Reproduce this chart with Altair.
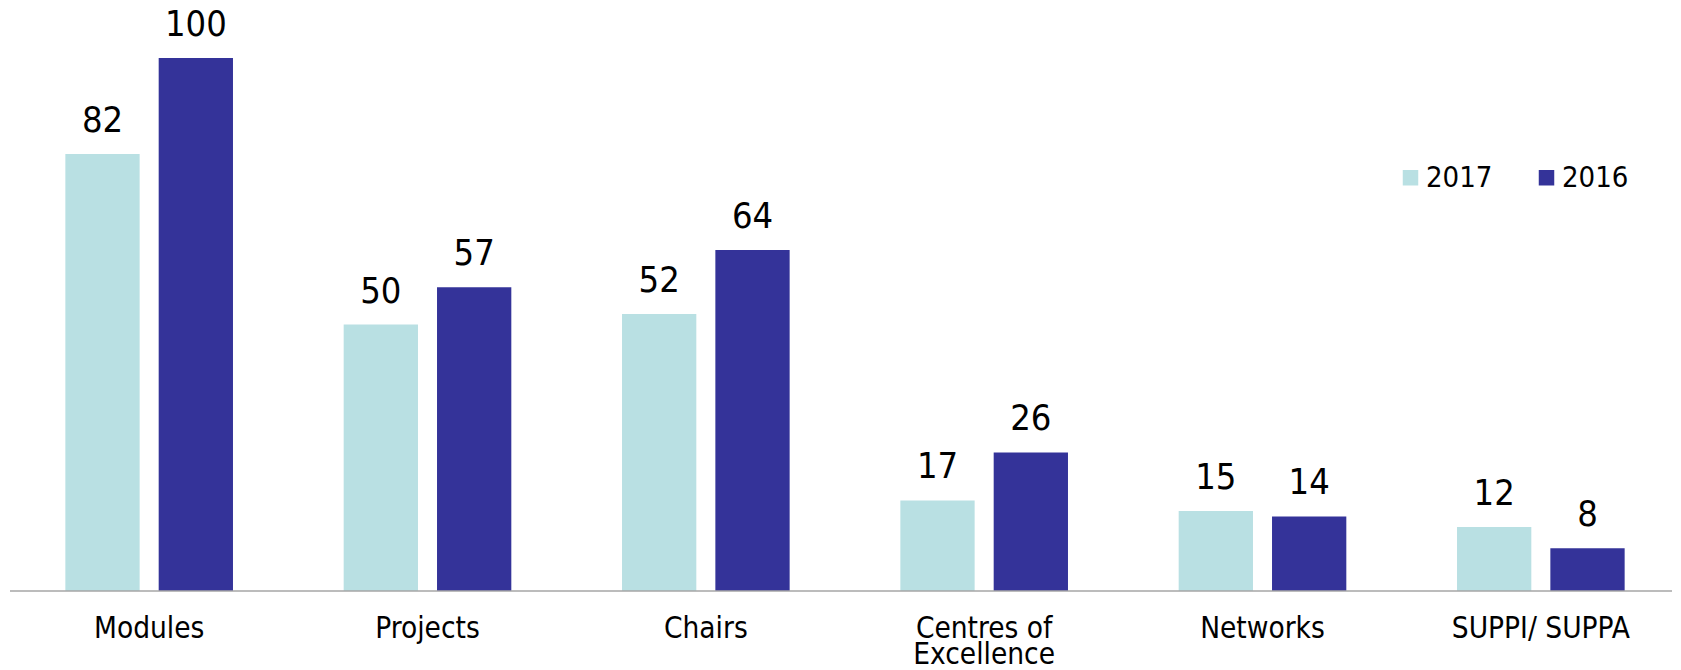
import altair as alt
import pandas as pd

categories = ["Modules", "Projects", "Chairs", "Centres of|Excellence", "Networks", "SUPPI/ SUPPA"]
years = ["2017", "2016"]
values_2017 = [82, 50, 52, 17, 15, 12]
values_2016 = [100, 57, 64, 26, 14, 8]
colors = ["#B9E0E3", "#343399"]

rows = []
for c, a, b in zip(categories, values_2017, values_2016):
    rows.append({"cat": c, "year": "2017", "value": a})
    rows.append({"cat": c, "year": "2016", "value": b})
df = pd.DataFrame(rows)

FONT = "DejaVu Sans Condensed, DejaVu Sans"

x = alt.X("cat:N", sort=categories,
          scale=alt.Scale(paddingInner=0, paddingOuter=0),
          axis=alt.Axis(title=None, labelAngle=0, ticks=False, domain=False,
                        labelFont=FONT, labelFontSize=29.5, labelColor="#000000",
                        labelPadding=23, labelLineHeight=26,
                        labelExpr="split(datum.label, '|')"))
xo = alt.XOffset("year:N", sort=years,
                 scale=alt.Scale(paddingInner=0.204, paddingOuter=0.593))
y = alt.Y("value:Q", scale=alt.Scale(domain=[0, 109.4], nice=False), axis=None)

bars = alt.Chart(df).mark_bar().encode(
    x=x, xOffset=xo, y=y,
    color=alt.Color("year:N", sort=years,
                    scale=alt.Scale(domain=years, range=colors),
                    legend=alt.Legend(title=None, orient="none", direction="horizontal",
                                      legendX=1386, legendY=155, padding=0,
                                      symbolType="square", symbolSize=240,
                                      symbolStrokeWidth=0, symbolOpacity=1,
                                      labelFont=FONT, labelFontSize=29,
                                      labelColor="#000000", columnPadding=39,
                                      labelOffset=1))
)

text = alt.Chart(df).mark_text(font=FONT, fontSize=36, color="#000000",
                               baseline="alphabetic", dy=-22).encode(
    x=x, xOffset=xo, y=y, text="value:Q"
)

domain_line = alt.Chart(pd.DataFrame({"v": [0]})).mark_rule(
    color="#A6A6A6", strokeWidth=1.5
).encode(x=alt.value(0), x2=alt.value(1662), y=alt.value(583))

chart = (bars + text + domain_line).properties(
    width=1670, height=583,
    autosize=alt.AutoSizeParams(type="none"),
    padding={"left": 2, "top": 0, "right": -8, "bottom": 74}
).configure_view(stroke=None)

chart.save("out.html", embed_options={"renderer": "svg", "actions": False})
